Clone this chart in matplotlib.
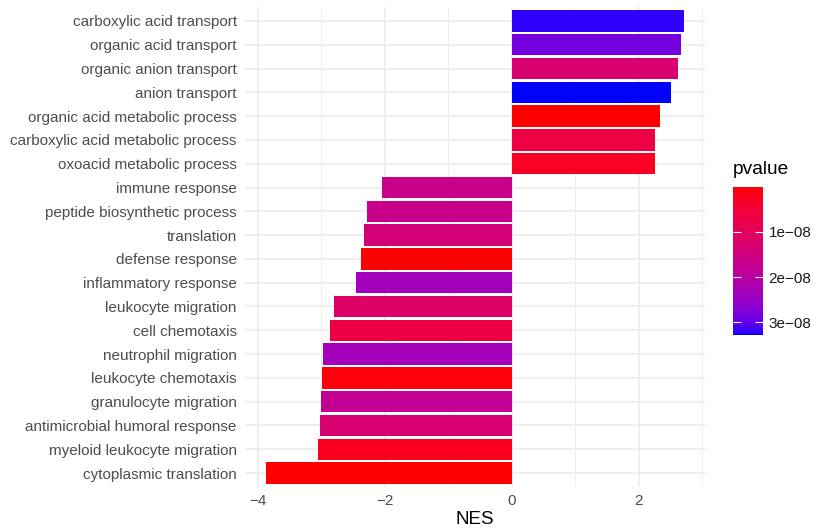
import numpy as np
import matplotlib.pyplot as plt
from matplotlib.colors import ListedColormap, Normalize
from matplotlib.cm import ScalarMappable

# GO terms, top to bottom as in the chart
terms = [
    "carboxylic acid transport",
    "organic acid transport",
    "organic anion transport",
    "anion transport",
    "organic acid metabolic process",
    "carboxylic acid metabolic process",
    "oxoacid metabolic process",
    "immune response",
    "peptide biosynthetic process",
    "translation",
    "defense response",
    "inflammatory response",
    "leukocyte migration",
    "cell chemotaxis",
    "neutrophil migration",
    "leukocyte chemotaxis",
    "granulocyte migration",
    "antimicrobial humoral response",
    "myeloid leukocyte migration",
    "cytoplasmic translation",
]
nes = [2.71, 2.67, 2.62, 2.50, 2.33, 2.25, 2.25,
       -2.04, -2.28, -2.33, -2.38, -2.46, -2.80, -2.87,
       -2.97, -2.99, -3.00, -3.02, -3.05, -3.87]
pvalue = [3.21e-8, 2.85e-8, 1.3e-8, 3.28e-8, 1.2e-10, 6.5e-9, 2.7e-9,
          1.65e-8, 1.65e-8, 1.4e-8, 3e-10, 2.35e-8, 1.15e-8, 6.5e-9,
          2.35e-8, 8e-10, 1.8e-8, 1.3e-8, 2.2e-9, 1e-10]
cbar_ticks = [1e-8, 2e-8, 3e-8]
cbar_labels = ["1e\u221208", "2e\u221208", "3e\u221208"]


# red -> blue gradient interpolated in CIELAB, like ggplot's continuous fill
WHITE = np.array([0.95047, 1.0, 1.08883])
M = np.array([[0.4124, 0.3576, 0.1805],
              [0.2126, 0.7152, 0.0722],
              [0.0193, 0.1192, 0.9505]])


def to_lab(rgb):
    c = np.asarray(rgb, float)
    lin = np.where(c <= 0.04045, c / 12.92, ((c + 0.055) / 1.055) ** 2.4)
    t = (M @ lin) / WHITE
    f = np.where(t > (6 / 29) ** 3, np.cbrt(t), t / (3 * (6 / 29) ** 2) + 4 / 29)
    return np.array([116 * f[1] - 16, 500 * (f[0] - f[1]), 200 * (f[1] - f[2])])


def from_lab(lab):
    L, a, b = lab
    fy = (L + 16) / 116
    f = np.array([fy + a / 500, fy, fy - b / 200])
    t = np.where(f > 6 / 29, f ** 3, 3 * (6 / 29) ** 2 * (f - 4 / 29)) * WHITE
    lin = np.linalg.solve(M, t)
    lin = np.clip(lin, 0, 1)
    c = np.where(lin <= 0.0031308, 12.92 * lin, 1.055 * lin ** (1 / 2.4) - 0.055)
    return np.clip(c, 0, 1)


lab_lo = to_lab([1, 0, 0])
lab_hi = to_lab([0, 0, 1])
cmap = ListedColormap([from_lab(lab_lo + (lab_hi - lab_lo) * s)
                       for s in np.linspace(0, 1, 256)])
norm = Normalize(vmin=min(pvalue), vmax=max(pvalue))

fig = plt.figure(figsize=(8.15, 5.31), dpi=100)
plt.rcParams["font.family"] = ["Liberation Sans", "DejaVu Sans"]

ax = fig.add_axes([245 / 815, 1 - 487.3 / 531, 460 / 815, 480.6 / 531])
ypos = np.arange(len(terms))
ax.barh(ypos, nes, height=0.9, color=cmap(norm(np.array(pvalue))), zorder=2)

ax.set_xlim(-4.20, 3.04)
ax.set_ylim(len(terms) - 1 + 0.6, -0.6)
ax.set_yticks(ypos)
ax.set_yticklabels(terms)
ax.set_xticks([-4, -2, 0, 2])
ax.set_xticks([-3, -1, 1, 3], minor=True)
ax.tick_params(axis="both", which="both", length=0, labelsize=11,
               labelcolor="#4d4d4d")
ax.tick_params(axis="x", pad=5)
ax.tick_params(axis="y", pad=6)
ax.grid(True, which="major", color="#ebebeb", linewidth=1.1, zorder=0)
ax.grid(True, which="minor", axis="x", color="#ebebeb", linewidth=0.6, zorder=0)
ax.set_axisbelow(True)
for s in ax.spines.values():
    s.set_visible(False)
ax.set_xlabel("NES", fontsize=13.5, labelpad=2)

# colour bar legend, low p-values (red) at the top
cax = fig.add_axes([733 / 815, 1 - 335 / 531, 30 / 815, 148 / 531])
cb = fig.colorbar(ScalarMappable(norm=norm, cmap=cmap), cax=cax)
cb.outline.set_visible(False)
cax.invert_yaxis()
cb.set_ticks(cbar_ticks)
cb.set_ticklabels(cbar_labels)
cax.yaxis.set_ticks_position("both")
cax.tick_params(axis="y", direction="in", color="white", length=6, width=0.8,
                labelsize=11, labelcolor="#1a1a1a", pad=4, labelleft=False,
                labelright=True)
fig.text(733 / 815, 1 - 170 / 531, "pvalue", fontsize=13.8, va="center",
         ha="left")

plt.savefig("out.png", dpi=100)
